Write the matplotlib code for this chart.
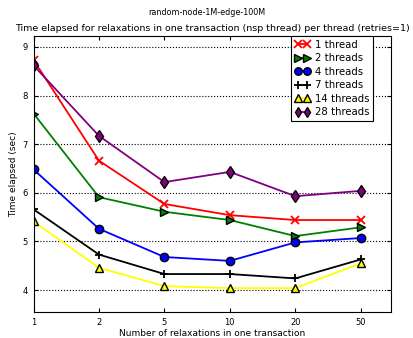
import numpy as np
import matplotlib.pyplot as plt

relax = ['1', '2', '5', '10', '20', '50']

t1 = [8.73, 6.66, 5.77, 5.54, 5.44, 5.44]
t2 = [7.63, 5.91, 5.61, 5.44, 5.11, 5.29]
t4 = [6.48, 5.26, 4.68, 4.60, 4.98, 5.07]
t7 = [5.66, 4.73, 4.33, 4.33, 4.24, 4.63]
t14 = [5.41, 4.46, 4.08, 4.04, 4.04, 4.55]
t28 = [8.62, 7.17, 6.22, 6.43, 5.93, 6.04]

series = [
    (t1, '1 thread', 'red', 'x'),
    (t2, '2 threads', 'green', '>'),
    (t4, '4 threads', 'blue', 'o'),
    (t7, '7 threads', 'black', '+'),
    (t14, '14 threads', 'yellow', '^'),
    (t28, '28 threads', 'purple', 'd'),
]

fig = plt.figure(figsize=(4.14, 3.38), dpi=100)
ax = fig.add_axes([0.081, 0.077, 0.863, 0.816])
x = np.arange(len(relax))
for vals, lab, col, mk in series:
    ax.plot(x, vals, color=col, marker=mk, markersize=6, linewidth=1.3,
            markeredgecolor=col if mk in ('x', '+') else 'black',
            markeredgewidth=1.3 if mk in ('x', '+') else 1.0, label=lab)

ax.set_xticks(x)
ax.set_xticklabels(relax)
ax.set_xlim(0, 5.46)
ax.set_ylim(3.55, 9.22)
ax.set_yticks([4, 5, 6, 7, 8, 9])
ax.yaxis.grid(True, linestyle=':', color='black', linewidth=0.8)
ax.tick_params(direction='in', top=True, right=True, labelsize=6, length=3, pad=4)
ax.set_xlabel('Number of relaxations in one transaction', fontsize=6.5, labelpad=2)
ax.set_ylabel('Time elapsed (sec)', fontsize=6.5, labelpad=3)
ax.set_title('Time elapsed for relaxations in one transaction (nsp thread) per thread (retries=1)',
             fontsize=6.8, pad=4)
fig.suptitle('random-node-1M-edge-100M', fontsize=5.8, y=0.975)
leg = ax.legend(loc='upper right', bbox_to_anchor=(0.95, 1.0), numpoints=2, fontsize=7.3,
                fancybox=False, framealpha=1, edgecolor='black', borderaxespad=0,
                handlelength=1.5, handletextpad=0.5, labelspacing=0.35, borderpad=0.35,
                markerscale=0.9)
leg.get_frame().set_linewidth(0.8)
fig.savefig('out.png', dpi=100)
